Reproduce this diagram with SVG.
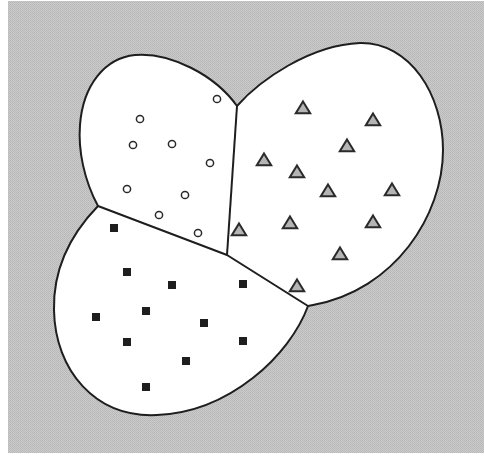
<svg xmlns="http://www.w3.org/2000/svg" xmlns:xlink="http://www.w3.org/1999/xlink" width="484" height="459" viewBox="0 0 484 459">
  <style>
    .outline { fill: #ffffff; stroke: #1e1e1e; stroke-width: 2; stroke-linejoin: round; }
    .edge { fill: none; stroke: #1e1e1e; stroke-width: 2; stroke-linejoin: round; }
    .circ { fill: #ffffff; stroke: #2a2a2a; stroke-width: 1.5; }
    .tri { fill: #b4b4b4; stroke: #2a2a2a; stroke-width: 2; stroke-linejoin: miter; }
    .sq { fill: #1e1e1e; }
  </style>
  <defs>
    <pattern id="dots" width="2" height="2" patternUnits="userSpaceOnUse">
      <rect width="2" height="2" fill="#cbcbcb"/>
      <rect width="1" height="1" fill="#b6b6b6"/>
      <rect x="1" y="1" width="1" height="1" fill="#bbbbbb"/>
    </pattern>
    <circle id="c" r="3.6" class="circ"/>
    <polygon id="t" points="0,-6.5 7.2,5.2 -7.2,5.2" class="tri"/>
    <rect id="s" x="-4" y="-4" width="8" height="8" class="sq"/>
  </defs>

  <rect x="0" y="0" width="484" height="459" fill="#ffffff"/>
  <rect x="8" y="1" width="476" height="452" fill="url(#dots)"/>

  <g id="regions">
    <path class="outline" d="M98,206 C84,180 78,150 80,125 C83,85 105,58 135,55 C170,52 215,75 237,106 C260,80 310,45 360,43 C410,42 443,95 443,150 C443,215 395,290 313,305 L308,306 C290,355 230,412 157,415 C95,418 55,370 54,310 C53,270 70,235 98,206 Z"/>
  </g>

  <g id="connectors">
    <path class="edge" d="M237,106 L227,255"/>
    <path class="edge" d="M98,206 L227,255 L308,306"/>
  </g>

  <g id="circles">
    <use xlink:href="#c" x="217" y="99"/>
    <use xlink:href="#c" x="140" y="119"/>
    <use xlink:href="#c" x="133" y="145"/>
    <use xlink:href="#c" x="172" y="144"/>
    <use xlink:href="#c" x="210" y="163"/>
    <use xlink:href="#c" x="127" y="189"/>
    <use xlink:href="#c" x="185" y="195"/>
    <use xlink:href="#c" x="159" y="215"/>
    <use xlink:href="#c" x="198" y="233"/>
  </g>

  <g id="triangles">
    <use xlink:href="#t" x="303" y="108"/>
    <use xlink:href="#t" x="373" y="120"/>
    <use xlink:href="#t" x="347" y="146"/>
    <use xlink:href="#t" x="264" y="160"/>
    <use xlink:href="#t" x="297" y="172"/>
    <use xlink:href="#t" x="328" y="191"/>
    <use xlink:href="#t" x="392" y="190"/>
    <use xlink:href="#t" x="239" y="230"/>
    <use xlink:href="#t" x="290" y="223"/>
    <use xlink:href="#t" x="373" y="222"/>
    <use xlink:href="#t" x="340" y="254"/>
    <use xlink:href="#t" x="297" y="286"/>
  </g>

  <g id="squares">
    <use xlink:href="#s" x="114" y="228"/>
    <use xlink:href="#s" x="127" y="272"/>
    <use xlink:href="#s" x="172" y="285"/>
    <use xlink:href="#s" x="243" y="284"/>
    <use xlink:href="#s" x="146" y="311"/>
    <use xlink:href="#s" x="96" y="317"/>
    <use xlink:href="#s" x="204" y="323"/>
    <use xlink:href="#s" x="127" y="342"/>
    <use xlink:href="#s" x="243" y="341"/>
    <use xlink:href="#s" x="186" y="361"/>
    <use xlink:href="#s" x="146" y="387"/>
  </g>
</svg>
